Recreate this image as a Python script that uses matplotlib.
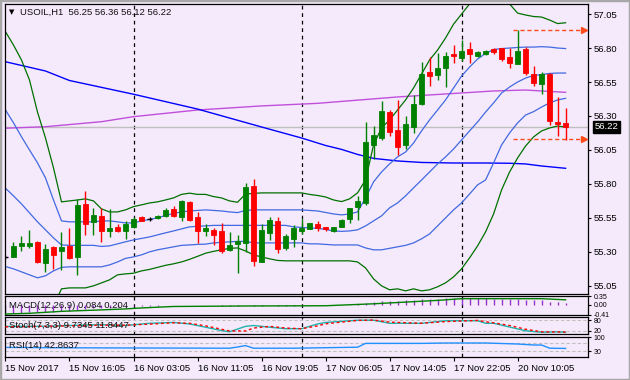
import matplotlib.pyplot as plt
from matplotlib.transforms import blended_transform_factory

plt.rcParams['font.family'] = ['Liberation Sans', 'DejaVu Sans']

# USOIL H1 candles (bar 0 = leftmost)
opens = [55.261, 55.265, 55.346, 55.346, 55.376, 55.221, 55.337, 55.307, 55.344, 55.265,
         55.655, 55.523, 55.565, 55.457, 55.484, 55.450, 55.484, 55.557, 55.543, 55.548,
         55.565, 55.616, 55.560, 55.670, 55.555, 55.457, 55.462, 55.450, 55.315, 55.361,
         55.368, 55.787, 55.229, 55.442, 55.526, 55.332, 55.398, 55.457, 55.471, 55.503,
         55.482, 55.457, 55.486, 55.540, 55.633, 55.658, 56.087, 56.140, 56.332, 56.197,
         56.087, 56.221, 56.388, 56.626, 56.601, 56.655, 56.754, 56.729, 56.790, 56.743,
         56.754, 56.795, 56.798, 56.734, 56.685, 56.793, 56.609, 56.535, 56.609, 56.258,
         56.250]
highs = [55.275, 55.374, 55.418, 55.462, 55.381, 55.359, 55.340, 55.447, 55.474, 55.687,
         55.749, 55.621, 55.621, 55.614, 55.506, 55.528, 55.560, 55.567, 55.557, 55.574,
         55.621, 55.638, 55.682, 55.675, 55.592, 55.506, 55.474, 55.511, 55.445, 55.423,
         55.810, 55.837, 55.506, 55.560, 55.560, 55.432, 55.499, 55.540, 55.515, 55.528,
         55.486, 55.486, 55.540, 55.626, 55.714, 56.256, 56.226, 56.410, 56.344, 56.418,
         56.300, 56.454, 56.699, 56.732, 56.761, 56.768, 56.822, 56.859, 56.842, 56.778,
         56.783, 56.800, 56.800, 56.798, 56.932, 56.805, 56.668, 56.626, 56.615, 56.442,
         56.360]
lows = [55.245, 55.260, 55.310, 55.332, 55.221, 55.155, 55.177, 55.168, 55.250, 55.131,
        55.425, 55.425, 55.376, 55.413, 55.447, 55.393, 55.474, 55.526, 55.526, 55.540,
        55.560, 55.560, 55.528, 55.528, 55.364, 55.418, 55.351, 55.290, 55.310, 55.143,
        55.302, 55.197, 55.229, 55.388, 55.290, 55.315, 55.335, 55.432, 55.467, 55.457,
        55.457, 55.447, 55.482, 55.511, 55.535, 55.646, 55.982, 56.123, 56.153, 56.013,
        56.055, 56.173, 56.380, 56.521, 56.565, 56.516, 56.692, 56.707, 56.692, 56.736,
        56.749, 56.758, 56.707, 56.655, 56.685, 56.601, 56.521, 56.462, 56.234, 56.155,
        56.120]
closes = [55.261, 55.344, 55.366, 55.366, 55.229, 55.322, 55.278, 55.335, 55.256, 55.646,
          55.508, 55.572, 55.450, 55.476, 55.457, 55.508, 55.543, 55.530, 55.543, 55.565,
          55.609, 55.567, 55.675, 55.535, 55.450, 55.476, 55.427, 55.310, 55.349, 55.381,
          55.778, 55.236, 55.462, 55.535, 55.320, 55.418, 55.479, 55.479, 55.511, 55.474,
          55.467, 55.482, 55.535, 55.621, 55.675, 56.109, 56.160, 56.337, 56.185, 56.074,
          56.241, 56.388, 56.609, 56.594, 56.655, 56.741, 56.739, 56.778, 56.756, 56.773,
          56.778, 56.771, 56.717, 56.692, 56.778, 56.614, 56.545, 56.609, 56.263, 56.243,
          56.220]

# Bollinger lines (green = outer, blue = inner + middle)
bb_up2 = [56.920, 56.822, 56.712, 56.565, 56.329, 56.138, 55.918, 55.668, 55.675, 55.682,
          55.690, 55.675, 55.616, 55.594, 55.594, 55.609, 55.633, 55.646, 55.660, 55.668,
          55.682, 55.697, 55.723, 55.732, 55.723, 55.723, 55.707, 55.697, 55.675, 55.665,
          55.726, 55.730, 55.734, 55.734, 55.734, 55.734, 55.734, 55.734, 55.723, 55.715,
          55.704, 55.682, 55.670, 55.690, 55.734, 55.830, 56.087, 56.212, 56.271, 56.344,
          56.418, 56.506, 56.609, 56.712, 56.785, 56.874, 56.976, 57.050, 57.124, 57.182,
          57.212, 57.212, 57.182, 57.124, 57.057, 57.043, 57.032, 57.028, 57.006, 56.980,
          56.986]
bb_up1 = [56.344, 56.250, 56.147, 56.050, 55.955, 55.844, 55.682, 55.528, 55.521, 55.521,
          55.521, 55.521, 55.528, 55.528, 55.521, 55.513, 55.513, 55.528, 55.539, 55.550,
          55.568, 55.583, 55.594, 55.601, 55.605, 55.609, 55.605, 55.601, 55.594, 55.589,
          55.605, 55.609, 55.609, 55.609, 55.609, 55.609, 55.609, 55.609, 55.605, 55.601,
          55.590, 55.579, 55.572, 55.579, 55.594, 55.697, 55.815, 55.888, 55.947, 55.999,
          56.035, 56.101, 56.190, 56.271, 56.344, 56.418, 56.506, 56.594, 56.660, 56.719,
          56.760, 56.789, 56.796, 56.800, 56.804, 56.807, 56.807, 56.810, 56.807, 56.800,
          56.796]
bb_mid = [55.768, 55.712, 55.653, 55.587, 55.521, 55.462, 55.403, 55.351, 55.348, 55.348,
          55.348, 55.348, 55.340, 55.344, 55.359, 55.374, 55.388, 55.399, 55.410, 55.425,
          55.440, 55.454, 55.469, 55.484, 55.488, 55.491, 55.495, 55.495, 55.495, 55.495,
          55.495, 55.495, 55.495, 55.495, 55.495, 55.495, 55.484, 55.480, 55.476, 55.473,
          55.465, 55.454, 55.451, 55.454, 55.462, 55.491, 55.528, 55.565, 55.624, 55.660,
          55.712, 55.771, 55.829, 55.888, 55.947, 55.999, 56.057, 56.124, 56.190, 56.256,
          56.329, 56.396, 56.469, 56.513, 56.550, 56.579, 56.598, 56.605, 56.613, 56.616,
          56.616]
bb_lo1 = [55.192, 55.175, 55.153, 55.131, 55.109, 55.124, 55.160, 55.186, 55.190, 55.190,
          55.190, 55.190, 55.190, 55.204, 55.226, 55.252, 55.263, 55.278, 55.300, 55.315,
          55.326, 55.337, 55.348, 55.351, 55.355, 55.357, 55.366, 55.370, 55.374, 55.377,
          55.377, 55.366, 55.366, 55.366, 55.366, 55.366, 55.366, 55.366, 55.359, 55.359,
          55.355, 55.351, 55.351, 55.351, 55.351, 55.329, 55.315, 55.315, 55.326, 55.337,
          55.348, 55.366, 55.396, 55.432, 55.491, 55.550, 55.609, 55.660, 55.726, 55.793,
          55.829, 55.954, 56.087, 56.175, 56.249, 56.307, 56.332, 56.366, 56.396, 56.418,
          56.430]
bb_lo2 = [54.616, 54.601, 54.594, 54.609, 54.712, 54.785, 54.903, 55.028, 55.035, 55.035,
          55.035, 55.050, 55.072, 55.094, 55.131, 55.138, 55.143, 55.160, 55.171, 55.186,
          55.201, 55.212, 55.226, 55.245, 55.267, 55.290, 55.304, 55.315, 55.326, 55.329,
          55.307, 55.278, 55.263, 55.249, 55.237, 55.234, 55.234, 55.234, 55.234, 55.234,
          55.234, 55.234, 55.234, 55.234, 55.226, 55.182, 55.101, 55.050, 55.021, 55.028,
          55.013, 55.028, 55.013, 55.021, 55.043, 55.072, 55.116, 55.175, 55.256, 55.344,
          55.447, 55.579, 55.756, 55.888, 55.991, 56.079, 56.146, 56.190, 56.212, 56.226,
          56.219]

# long moving averages, read at a few bars
ma_blue_bars = [0, 5, 8, 16, 24, 32, 37, 40, 42, 44, 46, 49, 52, 56, 60, 63, 65, 67, 70]
ma_blue = [56.699, 56.631, 56.561, 56.460, 56.351, 56.219, 56.138, 56.083, 56.054, 56.017,
           55.988, 55.969, 55.958, 55.954, 55.954, 55.952, 55.947, 55.932, 55.915]
ma_pink_bars = [0, 5, 12, 16, 24, 32, 39, 49, 55, 61, 65, 67, 70]
ma_pink = [56.210, 56.221, 56.258, 56.295, 56.344, 56.374, 56.393, 56.440, 56.462, 56.484,
           56.491, 56.484, 56.474]

bid = 56.22
hl_levels = [56.935, 56.130]
price_ticks = [55.05, 55.30, 55.55, 55.80, 56.05, 56.30, 56.55, 56.80, 57.05]

# MACD(12,26,9)
macd_main = [-0.33, -0.33, -0.32, -0.31, -0.31, -0.30, -0.29, -0.27, -0.26, -0.21,
             -0.18, -0.15, -0.14, -0.12, -0.10, -0.08, -0.06, -0.05, -0.04, -0.03,
             -0.02, -0.01, 0.00, 0.00, -0.01, -0.02, -0.02, -0.04, -0.04, -0.04,
             -0.01, -0.04, -0.03, -0.02, -0.03, -0.03, -0.03, -0.02, -0.02, -0.02,
             -0.02, -0.02, -0.01, 0.01, 0.02, 0.07, 0.10, 0.14, 0.16, 0.17,
             0.18, 0.20, 0.23, 0.24, 0.25, 0.26, 0.26, 0.26, 0.26, 0.26,
             0.26, 0.25, 0.24, 0.23, 0.23, 0.21, 0.19, 0.18, 0.13, 0.10,
             0.084]
macd_sig_bars = [0, 3, 7, 12, 15, 17, 21, 30, 40, 46, 50, 54, 57, 67, 70]
macd_sig = [-0.38, -0.35, -0.27, -0.21, -0.17, -0.13, -0.07, -0.05, -0.04, 0.04,
            0.11, 0.18, 0.25, 0.25, 0.204]

# Stochastic(7,3,3)
stoch_bars = [0, 4, 8, 12, 15, 18, 21, 23, 25, 27, 28, 30, 31, 33, 35, 37, 39, 40, 44, 46,
              48, 52, 55, 59, 60, 61, 63, 65, 67, 69, 70]
stoch_main = [45, 45, 50, 55, 50, 63, 68, 59, 40, 20, 13, 45, 50, 40, 31, 31, 59, 68, 81, 81,
              63, 63, 78, 78, 63, 63, 41, 19, 10, 13, 9.7345]
stoch_sig = [42, 45, 48, 52, 52, 58, 66, 63, 48, 28, 18, 18, 35, 45, 35, 31, 48, 60, 80, 82,
             70, 63, 73, 80, 72, 66, 50, 28, 13, 12, 11.8447]

# RSI(14)
rsi_bars = [0, 8, 28, 29, 30, 31, 36, 44, 45, 47, 52, 55, 60, 64, 66, 67, 68, 70]
rsi_vals = [48, 46, 44, 50, 57, 44, 44, 49, 68, 68, 68, 70, 70, 65, 60, 60, 44, 42.8637]

day_separators = [16, 37, 57]
date_bars = [0, 8, 16, 24, 32, 40, 48, 56, 64]
date_labels = ['15 Nov 2017', '15 Nov 16:05', '16 Nov 03:05', '16 Nov 11:05', '16 Nov 19:05',
               '17 Nov 06:05', '17 Nov 14:05', '17 Nov 22:05', '20 Nov 10:05']

# ---- drawing ----
W, H = 630, 380
BG = '#f5eafb'
FS = 6.8
FS_SUB = 5.0
XLIM = (-0.06, 72.8)


def px_rect(x0, y0, x1, y1):
    return [x0 / W, 1 - y1 / H, (x1 - x0) / W, (y1 - y0) / H]


fig = plt.figure(figsize=(6.3, 3.8), dpi=100, facecolor=BG)
fig.patches.append(plt.Rectangle((0, 0), 1, 1, transform=fig.transFigure, fill=False,
                                 edgecolor='#a8a8a8', lw=2.5))

ax = fig.add_axes(px_rect(5, 4, 588, 294))
ax_macd = fig.add_axes(px_rect(5, 296, 588, 315))
ax_st = fig.add_axes(px_rect(5, 317, 588, 334))
ax_rsi = fig.add_axes(px_rect(5, 337, 588, 357))

for a in (ax, ax_macd, ax_st, ax_rsi):
    a.set_facecolor(BG)
    a.set_xlim(*XLIM)
    for s in a.spines.values():
        s.set_color('black')
        s.set_linewidth(0.9)
    a.yaxis.tick_right()
    a.tick_params(axis='y', direction='out', length=2.5, width=0.8, pad=1.5,
                  labelsize=FS, colors='black')
    a.tick_params(axis='x', bottom=False, labelbottom=False)
    for b in day_separators:
        a.axvline(b, color='black', lw=0.9, ls=(0, (3, 3)), zorder=1)

for a in (ax_macd, ax_st, ax_rsi):
    a.tick_params(axis='y', labelsize=FS_SUB, pad=1.5)

# main price panel
ax.set_ylim(54.99, 57.124)
ax.set_yticks(price_ticks)
ax.set_yticklabels([f'{t:.2f}' for t in price_ticks])
ax.axhline(bid, color='#c0c0c0', lw=1, zorder=1)

ax.plot(ma_pink_bars, ma_pink, color='#c050dc', lw=1, zorder=2)
ax.plot(ma_blue_bars, ma_blue, color='#0000ff', lw=1, zorder=2)
bars = list(range(len(closes)))
for line, col in ((bb_up2, '#007000'), (bb_lo2, '#007000'),
                  (bb_up1, '#4169e1'), (bb_mid, '#4169e1'), (bb_lo1, '#4169e1')):
    ax.plot(bars, line, color=col, lw=0.9, zorder=2)

for i, (o, h, l, c) in enumerate(zip(opens, highs, lows, closes)):
    col = '#008000' if c > o else ('#ff0000' if c < o else 'black')
    ax.vlines(i, l, h, color=col, lw=1, zorder=3)
    if c == o:
        ax.hlines(o, i - 0.32, i + 0.32, color='black', lw=1, zorder=4)
    else:
        ax.bar(i, abs(c - o), bottom=min(o, c), width=0.6, color=col, edgecolor=col,
               lw=0.6, zorder=4)

for lvl in hl_levels:
    ax.hlines(lvl, 63.4, 72.0, color='#ff4a1a', lw=1, ls=(0, (3, 2)), zorder=3)
    ax.plot(72.3, lvl, marker='>', ms=4.5, color='#ff4a1a', zorder=3, clip_on=False)

tr = blended_transform_factory(ax.transAxes, ax.transData)
ax.text(1.011, bid, f'{bid:.2f}', transform=tr, color='white', fontsize=FS, va='center',
        ha='left', bbox=dict(facecolor='black', edgecolor='black', pad=1.2))

fig.text(9 / W, 1 - 12 / H, '\u25bc', fontsize=5, family='DejaVu Sans', va='center')
fig.text(20 / W, 1 - 12 / H, 'USOIL,H1  56.25 56.36 56.12 56.22', fontsize=FS,
         va='center', color='#111111')

# MACD panel
ax_macd.set_ylim(-0.42, 0.36)
ax_macd.vlines(bars, 0, macd_main, color='#9932cc', lw=1, zorder=2)
ax_macd.plot(macd_sig_bars, macd_sig, color='#008000', lw=1, zorder=3)
ax_macd.set_yticks([0.35, 0.0, -0.41])
ax_macd.set_yticklabels(['0.35', '0.00', '-0.41'])
ax_macd.text(0.007, 0.5, 'MACD(12,26,9) 0.084 0.204', transform=ax_macd.transAxes,
             fontsize=FS, va='center', color='#111111', zorder=5)

# Stochastic panel
ax_st.set_ylim(0, 100)
for lvl in (20, 80):
    ax_st.axhline(lvl, color='#c0c0c0', lw=0.8, ls=(0, (3, 2)), zorder=1)
ax_st.plot(stoch_bars, stoch_main, color='#20b2aa', lw=1, zorder=2)
ax_st.plot(stoch_bars, stoch_sig, color='#ff0000', lw=1, ls=(0, (2, 2)), zorder=3)
ax_st.set_yticks([80, 20])
ax_st.set_yticklabels(['80', '20'])
ax_st.text(0.007, 0.5, 'Stoch(7,3,3) 9.7345 11.8447', transform=ax_st.transAxes,
           fontsize=FS, va='center', color='#111111', zorder=5)

# RSI panel
ax_rsi.set_ylim(0, 100)
for lvl in (30, 70):
    ax_rsi.axhline(lvl, color='#c0c0c0', lw=0.8, ls=(0, (3, 2)), zorder=1)
ax_rsi.plot(rsi_bars, rsi_vals, color='#1e90ff', lw=1, zorder=2)
ax_rsi.set_yticks([100, 30])
ax_rsi.set_yticklabels(['100', '30'])
ax_rsi.text(0.007, 0.55, 'RSI(14) 42.8637', transform=ax_rsi.transAxes,
            fontsize=FS, va='center', color='#111111', zorder=5)

ax_rsi.set_xticks(date_bars)
ax_rsi.set_xticklabels(date_labels, ha='left')
ax_rsi.tick_params(axis='x', bottom=True, labelbottom=True, direction='out', length=3,
                   width=0.8, pad=2, labelsize=FS, colors='black')

fig.savefig('out.png', dpi=100, facecolor=BG)
